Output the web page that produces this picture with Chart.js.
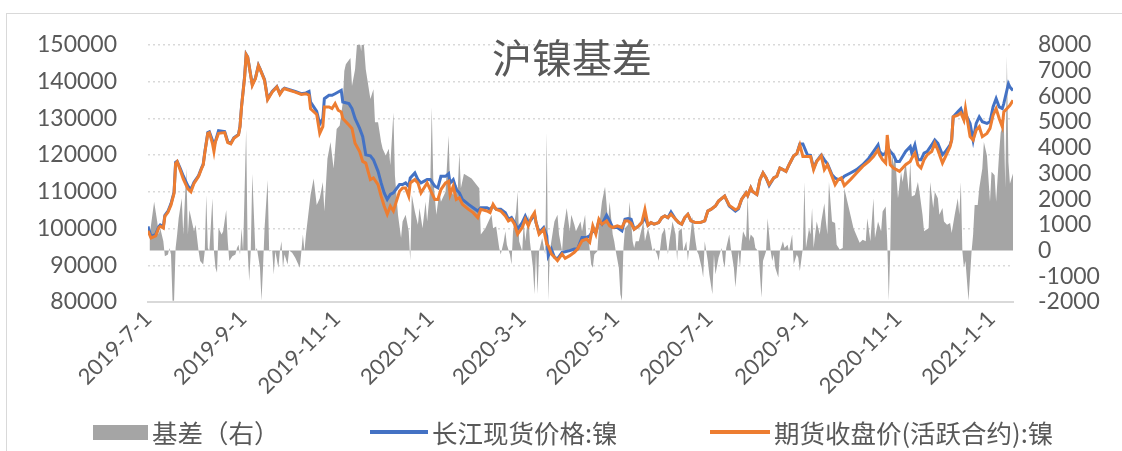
<!DOCTYPE html>
<html><head><meta charset="utf-8">
<script src="https://cdn.jsdelivr.net/npm/chart.js@4/dist/chart.umd.min.js"></script>
<style>
html,body{margin:0;padding:0;background:#fff;}
#wrap{position:relative;width:1122px;height:451px;overflow:hidden;background:#fff;}
#frame{position:absolute;left:6px;top:13px;width:1300px;height:600px;border-left:1.5px solid #d9d9d9;border-top:1.5px solid #d9d9d9;}
#c{position:absolute;left:0;top:0;}
#title{position:absolute;left:372px;width:400px;top:33px;text-align:center;font-family:"Noto Sans CJK SC";font-size:40px;line-height:46px;color:#595959;}
.lgt{position:absolute;top:414px;font-family:"Noto Sans CJK SC";font-size:25.5px;line-height:36px;color:#595959;white-space:nowrap;}
.lgs{position:absolute;}
</style></head>
<body><div id="wrap"><div id="frame"></div><canvas id="c" width="1122" height="451"></canvas><div id="title">沪镍基差</div></div>
<script>
const chartTitle = '沪镍基差';
const seriesNames = ['基差（右）', '长江现货价格:镍', '期货收盘价(活跃合约):镍'];
const tickDates = ['2019-7-1','2019-9-1','2019-11-1','2020-1-1','2020-3-1','2020-5-1','2020-7-1','2020-9-1','2020-11-1','2021-1-1'];
const axisStart = '2019-7-1', axisEnd = '2021-1-15';

const priceDates = [
'2019-7-1','2019-7-3','2019-7-6','2019-7-8','2019-7-9','2019-7-11','2019-7-12','2019-7-14','2019-7-16','2019-7-18','2019-7-19','2019-7-20','2019-7-22','2019-7-24','2019-7-26','2019-7-27','2019-7-29','2019-7-31',
'2019-8-3','2019-8-5','2019-8-6','2019-8-7','2019-8-9','2019-8-10','2019-8-12','2019-8-13','2019-8-14','2019-8-16','2019-8-20','2019-8-22','2019-8-24','2019-8-26','2019-8-29','2019-8-30','2019-8-31',
'2019-9-2','2019-9-3','2019-9-4','2019-9-7','2019-9-9','2019-9-11','2019-9-12','2019-9-15','2019-9-17','2019-9-20','2019-9-23','2019-9-25','2019-9-27','2019-9-28',
'2019-10-5','2019-10-9','2019-10-12','2019-10-14','2019-10-15','2019-10-19','2019-10-21','2019-10-23','2019-10-24','2019-10-27','2019-10-29','2019-10-31',
'2019-11-2','2019-11-4','2019-11-5','2019-11-9','2019-11-11','2019-11-13','2019-11-16','2019-11-18','2019-11-20','2019-11-23','2019-11-25','2019-11-28','2019-11-30',
'2019-12-2','2019-12-4','2019-12-6','2019-12-8','2019-12-12','2019-12-14','2019-12-16','2019-12-18','2019-12-19','2019-12-22','2019-12-24','2019-12-26','2019-12-30',
'2020-1-1','2020-1-4','2020-1-6','2020-1-8','2020-1-11','2020-1-13','2020-1-14','2020-1-16','2020-1-18','2020-1-20','2020-1-22','2020-1-26','2020-1-29',
'2020-2-1','2020-2-3','2020-2-7','2020-2-9','2020-2-11','2020-2-13','2020-2-16','2020-2-19','2020-2-21','2020-2-23','2020-2-25','2020-2-27',
'2020-3-1','2020-3-3','2020-3-5','2020-3-7','2020-3-9','2020-3-10','2020-3-12','2020-3-15','2020-3-17','2020-3-18','2020-3-20','2020-3-22','2020-3-24','2020-3-27','2020-3-29',
'2020-4-1','2020-4-4','2020-4-6','2020-4-9','2020-4-12','2020-4-14','2020-4-16','2020-4-18','2020-4-20','2020-4-22','2020-4-25','2020-4-27','2020-4-29',
'2020-5-2','2020-5-5','2020-5-7','2020-5-9','2020-5-11','2020-5-13','2020-5-16','2020-5-18','2020-5-20','2020-5-22','2020-5-24','2020-5-26','2020-5-29','2020-5-31',
'2020-6-2','2020-6-4','2020-6-6','2020-6-9','2020-6-11','2020-6-13','2020-6-15','2020-6-17','2020-6-19','2020-6-22','2020-6-25','2020-6-28','2020-6-30',
'2020-7-2','2020-7-5','2020-7-7','2020-7-11','2020-7-14','2020-7-18','2020-7-20','2020-7-22','2020-7-25','2020-7-26','2020-7-28','2020-7-29',
'2020-8-1','2020-8-3','2020-8-5','2020-8-7','2020-8-9','2020-8-12','2020-8-14','2020-8-16','2020-8-18','2020-8-20','2020-8-22','2020-8-25','2020-8-27','2020-8-29','2020-8-31',
'2020-9-3','2020-9-5','2020-9-7','2020-9-9','2020-9-12','2020-9-14','2020-9-16','2020-9-19','2020-9-21','2020-9-23','2020-9-25','2020-9-27',
'2020-10-1','2020-10-5','2020-10-9','2020-10-13','2020-10-16','2020-10-19','2020-10-20','2020-10-22','2020-10-24','2020-10-25','2020-10-27','2020-10-29','2020-10-31',
'2020-11-2','2020-11-4','2020-11-6','2020-11-9','2020-11-10','2020-11-12','2020-11-14','2020-11-16','2020-11-18','2020-11-20','2020-11-23','2020-11-25','2020-11-27','2020-11-30',
'2020-12-2','2020-12-5','2020-12-6','2020-12-7','2020-12-10','2020-12-12','2020-12-14','2020-12-15','2020-12-18','2020-12-20','2020-12-22','2020-12-24','2020-12-26','2020-12-29','2020-12-31',
'2021-1-2','2021-1-4','2021-1-6','2021-1-8','2021-1-9','2021-1-12','2021-1-13','2021-1-15'
];

const spot = [
100540,97800,98400,100500,101000,100500,103600,104700,106800,109900,118000,118300,116400,114300,112500,111600,110600,112600,
114400,116600,117500,120700,126100,126300,124000,122500,123800,126620,126400,123600,123200,124700,125600,127900,133300,
141400,147400,146700,139200,140900,144400,143500,140500,135300,137300,138600,136700,137900,138200,
137300,136700,136900,137300,134400,131900,128420,129950,135340,136240,136240,136690,
137140,137590,134440,133990,132640,129950,127250,125000,120050,119780,118710,115560,112410,
109710,107910,109260,109710,111960,111960,112410,111510,113760,115110,113310,112410,113310,
113310,111510,111060,114210,114210,114930,112410,113310,110610,109710,107910,106560,105660,
104760,105660,105660,105210,106110,105210,105210,104320,102520,102970,101620,99820,
101620,103420,101620,102520,103870,101620,98920,100270,98020,92630,94420,92180,91730,93530,93700,
93980,94420,94420,97570,97570,98020,99370,98920,102070,101170,103600,102070,100270,
100270,99370,102520,102700,102520,99820,100720,101620,102970,100900,101620,101170,101620,102970,
103420,102970,104500,102520,101620,101170,102970,103870,102070,101620,101620,102070,104760,
105210,106110,107460,108810,106110,104760,105390,107910,109710,108990,111060,110160,
109260,113310,115110,113760,111700,113760,114210,116460,116010,115560,117360,119780,120320,123020,123000,
120000,119900,116400,118400,120000,118690,117600,114630,113740,113310,113310,114210,
115110,116010,117360,119150,120950,122750,120950,120050,120500,122300,120950,120050,118260,
118260,119600,120950,122300,120500,122750,118700,118700,120500,120950,122750,124100,123200,120050,
120950,122750,124100,130400,131740,132640,129950,131290,128600,124100,128600,130400,129050,128600,129050,
133090,135340,133090,132640,134000,139390,138490,137590
];

const futures = [
99370,97400,98000,100200,100600,100100,103300,104400,106400,109600,117700,118200,115900,113500,111700,110800,110000,112300,
114200,116400,117300,120500,125900,126080,123200,120950,123650,125900,126100,123380,123020,124550,125450,127700,133100,
141190,147300,146580,138940,140740,144330,143430,140290,135070,137140,138490,136510,137800,138040,
137140,136510,136690,136300,132600,131050,125900,127700,133100,133100,132640,133990,
132190,131740,129950,128150,127250,123200,120950,118260,117810,113310,113760,111960,108810,
106120,103870,106120,104770,110160,111060,111060,108810,112410,113310,112410,109710,112410,
110610,107910,107910,110610,112410,112860,109260,111510,107910,108360,106560,105210,104320,
102970,105210,104760,104320,106560,105210,104760,103420,102070,102520,101170,98470,
100270,102520,100720,102970,104320,101620,98470,99820,95770,95320,93070,92180,91280,93070,91900,
92620,93530,94420,96670,97120,96220,100720,98470,102520,101170,102070,100720,100270,
100720,100270,102070,102070,101440,99820,100720,101620,105210,100900,101620,101170,101620,102970,
103420,102970,103870,102520,101620,101170,102970,103870,102070,101620,101620,102070,104760,
105210,106110,107460,108810,106300,105100,105600,107910,109710,108990,111060,110160,
109260,113310,115110,113760,111960,113760,114210,116460,116010,115560,117360,119780,120320,122750,119600,
119600,119600,116010,118240,119780,116010,117360,114190,111940,113310,113760,111690,
113310,115110,116900,118260,119600,121400,120050,118700,117800,125450,117360,116460,116010,
115560,116460,117360,118260,119150,120500,117360,116460,118700,120050,120950,123200,121400,117800,
119600,122300,124100,130400,130840,131470,129500,132640,125000,124100,126800,127700,125000,125900,127250,
130850,132640,129950,127700,131740,133090,133540,134890
];

const basisDates = [
'2019-7-2','2019-7-3','2019-7-5','2019-7-7','2019-7-8','2019-7-9','2019-7-11','2019-7-12','2019-7-14','2019-7-15','2019-7-16','2019-7-17','2019-7-18','2019-7-19','2019-7-20','2019-7-21','2019-7-23','2019-7-24','2019-7-26','2019-7-27','2019-7-28','2019-7-31',
'2019-8-1','2019-8-3','2019-8-4','2019-8-6','2019-8-7','2019-8-8','2019-8-9','2019-8-10','2019-8-12','2019-8-13','2019-8-14','2019-8-15','2019-8-16','2019-8-18','2019-8-19','2019-8-21','2019-8-22','2019-8-23','2019-8-25','2019-8-27','2019-8-28','2019-8-29','2019-8-30','2019-8-31',
'2019-9-1','2019-9-3','2019-9-4','2019-9-5','2019-9-6','2019-9-7','2019-9-9','2019-9-10','2019-9-12','2019-9-13','2019-9-14','2019-9-15','2019-9-17','2019-9-18','2019-9-20','2019-9-21','2019-9-22','2019-9-24','2019-9-25','2019-9-26','2019-9-27','2019-9-28','2019-9-30',
'2019-10-1','2019-10-3','2019-10-5','2019-10-8','2019-10-9','2019-10-10','2019-10-11','2019-10-12','2019-10-15','2019-10-17','2019-10-19','2019-10-21','2019-10-23','2019-10-24','2019-10-26','2019-10-28','2019-10-30',
'2019-11-1','2019-11-3','2019-11-5','2019-11-6','2019-11-7','2019-11-10','2019-11-11','2019-11-13','2019-11-15','2019-11-17','2019-11-18','2019-11-20','2019-11-21','2019-11-23','2019-11-25','2019-11-26','2019-11-28','2019-11-30',
'2019-12-1','2019-12-3','2019-12-5','2019-12-6','2019-12-8','2019-12-9','2019-12-11','2019-12-13','2019-12-14','2019-12-16','2019-12-18','2019-12-19','2019-12-20','2019-12-22','2019-12-24','2019-12-25','2019-12-27','2019-12-29','2019-12-30',
'2020-1-1','2020-1-2','2020-1-3','2020-1-5','2020-1-7','2020-1-8','2020-1-11','2020-1-13','2020-1-14','2020-1-16','2020-1-17','2020-1-19','2020-1-20','2020-1-21','2020-1-23','2020-1-28',
'2020-2-2','2020-2-3','2020-2-6','2020-2-8','2020-2-10','2020-2-11','2020-2-13','2020-2-15','2020-2-16','2020-2-18','2020-2-19','2020-2-20','2020-2-22','2020-2-23','2020-2-24','2020-2-26','2020-2-27','2020-2-28',
'2020-3-1','2020-3-2','2020-3-3','2020-3-5','2020-3-6','2020-3-8','2020-3-9','2020-3-10','2020-3-11','2020-3-12','2020-3-14','2020-3-16','2020-3-17','2020-3-18','2020-3-19','2020-3-21','2020-3-22','2020-3-24','2020-3-25','2020-3-27','2020-3-28','2020-3-30',
'2020-4-1','2020-4-2','2020-4-4','2020-4-5','2020-4-8','2020-4-9','2020-4-11','2020-4-12','2020-4-13','2020-4-15','2020-4-16','2020-4-17','2020-4-19','2020-4-20','2020-4-22','2020-4-24','2020-4-26','2020-4-27','2020-4-29','2020-4-30',
'2020-5-1','2020-5-3','2020-5-4','2020-5-5','2020-5-6','2020-5-7','2020-5-9','2020-5-10','2020-5-12','2020-5-13','2020-5-14','2020-5-16','2020-5-17','2020-5-19','2020-5-20','2020-5-22','2020-5-23','2020-5-25','2020-5-26','2020-5-28','2020-5-29','2020-5-31',
'2020-6-2','2020-6-4','2020-6-5','2020-6-7','2020-6-9','2020-6-10','2020-6-11','2020-6-13','2020-6-14','2020-6-16','2020-6-17','2020-6-19','2020-6-20','2020-6-22','2020-6-23','2020-6-24','2020-6-26','2020-6-27','2020-6-28','2020-6-30',
'2020-7-1','2020-7-3','2020-7-4','2020-7-5','2020-7-7','2020-7-9','2020-7-10','2020-7-11','2020-7-12','2020-7-14','2020-7-15','2020-7-17','2020-7-18','2020-7-20','2020-7-21','2020-7-22','2020-7-23','2020-7-25','2020-7-26','2020-7-27','2020-7-28','2020-7-30','2020-7-31',
'2020-8-2','2020-8-3','2020-8-4','2020-8-5','2020-8-7','2020-8-8','2020-8-10','2020-8-11','2020-8-12','2020-8-13','2020-8-15','2020-8-16','2020-8-18','2020-8-19','2020-8-21','2020-8-22','2020-8-24','2020-8-25','2020-8-27','2020-8-28','2020-8-29','2020-8-31',
'2020-9-1','2020-9-2','2020-9-4','2020-9-5','2020-9-6','2020-9-7','2020-9-9','2020-9-11','2020-9-12','2020-9-14','2020-9-15','2020-9-16','2020-9-17','2020-9-19','2020-9-21','2020-9-22','2020-9-24','2020-9-26','2020-9-27',
'2020-10-3','2020-10-7','2020-10-9','2020-10-11','2020-10-12','2020-10-14','2020-10-16','2020-10-17','2020-10-19','2020-10-21','2020-10-22','2020-10-24','2020-10-25','2020-10-26','2020-10-27','2020-10-28','2020-10-29','2020-10-30',
'2020-11-1','2020-11-3','2020-11-4','2020-11-6','2020-11-8','2020-11-9','2020-11-10','2020-11-12','2020-11-14','2020-11-15','2020-11-17','2020-11-18','2020-11-21','2020-11-22','2020-11-24','2020-11-25','2020-11-27','2020-11-28','2020-11-30',
'2020-12-1','2020-12-3','2020-12-5','2020-12-6','2020-12-8','2020-12-10','2020-12-11','2020-12-12','2020-12-13','2020-12-14','2020-12-15','2020-12-16','2020-12-17','2020-12-19','2020-12-20','2020-12-21','2020-12-23','2020-12-24','2020-12-26','2020-12-27','2020-12-29','2020-12-31',
'2021-1-1','2021-1-3','2021-1-4','2021-1-6','2021-1-7','2021-1-9','2021-1-10','2021-1-11','2021-1-12','2021-1-13','2021-1-15'
];

const basis = [
550,1000,1900,1130,620,870,360,-220,-150,100,-150,-1950,-1950,100,620,1260,2030,620,3190,620,1580,750,
1000,-30,-410,-540,-30,2160,100,-30,2030,-30,-670,-860,870,620,750,1580,360,-410,-220,-150,100,230,-150,870,
-30,4730,-30,-1180,-30,2990,-30,100,-670,-1950,-670,870,2740,-30,0,-930,-30,-670,-30,360,-670,-150,-540,
0,-90,-280,-670,-30,620,-30,620,2160,2800,1770,2030,2670,1520,3570,4220,3190,
4730,4860,5760,6980,7240,7490,6400,7040,8600,7750,8600,7040,6660,5890,6270,4990,4990,4220,
3960,3700,3960,3320,5370,2930,1390,490,1130,1390,750,-410,2160,1520,1000,1650,870,1900,1130,
2420,5570,2800,1390,2290,1900,2290,4470,2420,2160,2670,2420,3830,2420,2990,2800,
2420,620,870,1130,1390,870,940,100,-150,360,750,230,-150,-540,750,1520,2290,360,
-30,1130,360,1390,360,-670,-1700,-30,-1700,-30,490,-150,4600,-1950,-30,750,1130,1390,620,-30,870,1650,
750,1390,1000,750,1130,750,1390,360,620,-540,-670,-150,-30,870,1900,2480,1130,1900,620,360,
-30,-670,-1700,-1950,100,870,1000,1900,360,100,360,360,620,1130,360,870,620,-30,100,-150,-410,620,
870,-150,360,1130,620,-410,750,870,-30,360,-410,750,1320,360,-30,-150,-670,-1050,360,-410,
-930,-1700,-150,-930,-280,100,-410,-670,100,620,100,-670,-1440,-30,-670,230,750,490,2160,360,620,490,100,
-30,-930,-1830,-410,-30,1260,-30,-410,-150,-670,-1050,-30,360,100,230,-30,620,-540,-150,-280,-800,100,
2670,100,870,620,1650,100,1130,620,1130,1840,1130,620,2670,1130,1070,230,40,100,2420,
870,300,420,360,1260,360,2030,490,1130,750,1520,1710,360,-1950,100,3960,3320,3830,
2030,3060,2670,3440,2290,3440,2100,2160,2670,2290,1390,750,870,2670,1650,2290,2030,1390,1650,
1130,1000,1070,680,1390,2030,1390,2670,-30,-670,-410,-1180,-1950,-30,620,1770,1770,2420,3190,4220,3700,1900,
3060,2930,1900,3830,4600,4990,2420,7560,3440,2600,3000
];

const leftMin = 80000, leftMax = 150000, leftStep = 10000;
const rightMin = -2000, rightMax = 8000, rightStep = 1000;

const origin = Date.UTC(2019, 6, 1);
function dayOf(s) { const p = s.split('-').map(Number); return (Date.UTC(p[0], p[1] - 1, p[2]) - origin) / 86400000; }
function pts(dates, vals) { return dates.map((d, i) => ({ x: dayOf(d), y: vals[i] })); }

const txt = '#595959';
const numFont = { family: 'Lato', size: 23 };

const datasets = [
  { label: seriesNames[0], data: pts(basisDates, basis), yAxisID: 'y1', backgroundColor: '#a5a5a5', borderColor: 'rgba(0,0,0,0)', borderWidth: 0, fill: 'origin', pointRadius: 0, tension: 0, order: 3 },
  { label: seriesNames[1], data: pts(priceDates, spot), yAxisID: 'y', borderColor: '#4472c4', backgroundColor: '#4472c4', borderWidth: 3, fill: false, pointRadius: 0, tension: 0, order: 2 },
  { label: seriesNames[2], data: pts(priceDates, futures), yAxisID: 'y', borderColor: '#ed7d31', backgroundColor: '#ed7d31', borderWidth: 3, fill: false, pointRadius: 0, tension: 0, order: 1 }
];

const chart = new Chart(document.getElementById('c'), {
  type: 'line',
  data: { datasets },
  options: {
    responsive: false, animation: false, devicePixelRatio: 1,
    layout: { padding: { top: 42, bottom: 49, left: 0, right: 0 } },
    plugins: { legend: { display: false }, tooltip: { enabled: false }, title: { display: false } },
    scales: {
      x: {
        type: 'linear', min: dayOf(axisStart), max: dayOf(axisEnd),
        afterBuildTicks: s => { s.ticks = tickDates.map(d => ({ value: dayOf(d) })); },
        afterFit: s => { s.height = 100; },
        ticks: { autoSkip: false, minRotation: 45, maxRotation: 45, padding: 4, color: txt, font: { family: 'Lato', size: 22 },
          callback: v => { const i = tickDates.findIndex(d => dayOf(d) === v); return i >= 0 ? tickDates[i] : ''; } },
        grid: { display: false, drawTicks: false },
        border: { display: true, color: '#d9d9d9', width: 2 }
      },
      y: {
        position: 'left', min: leftMin, max: leftMax,
        afterFit: s => { s.width = 148; },
        ticks: { autoSkip: false, stepSize: leftStep, padding: 31, color: txt, font: numFont, callback: v => String(v) },
        grid: { color: '#d9d9d9', lineWidth: 1.5, drawTicks: false },
        border: { display: false, dash: [2, 3] }
      },
      y1: {
        position: 'right', min: rightMin, max: rightMax,
        afterFit: s => { s.width = 109; },
        ticks: { autoSkip: false, stepSize: rightStep, padding: 25, color: txt, font: numFont, callback: v => String(v) },
        grid: { drawOnChartArea: false, drawTicks: false },
        border: { display: false }
      }
    }
  }
});

// legend built from the dataset labels and colours
const wrap = document.getElementById('wrap');
const legendLeft = [93, 370, 710];
const swatchW = [55, 58, 60];
chart.data.datasets.forEach((ds, i) => {
  const sw = document.createElement('div');
  sw.className = 'lgs';
  sw.style.left = legendLeft[i] + 'px';
  sw.style.width = swatchW[i] + 'px';
  if (i === 0) { sw.style.top = '425px'; sw.style.height = '15px'; sw.style.background = ds.backgroundColor; }
  else { sw.style.top = '430px'; sw.style.height = '3.5px'; sw.style.background = ds.borderColor; }
  wrap.appendChild(sw);
  const t = document.createElement('div');
  t.className = 'lgt';
  t.style.left = (legendLeft[i] + swatchW[i] + 4) + 'px';
  t.textContent = ds.label;
  wrap.appendChild(t);
});
document.getElementById('title').textContent = chartTitle;
</script>
</body></html>
